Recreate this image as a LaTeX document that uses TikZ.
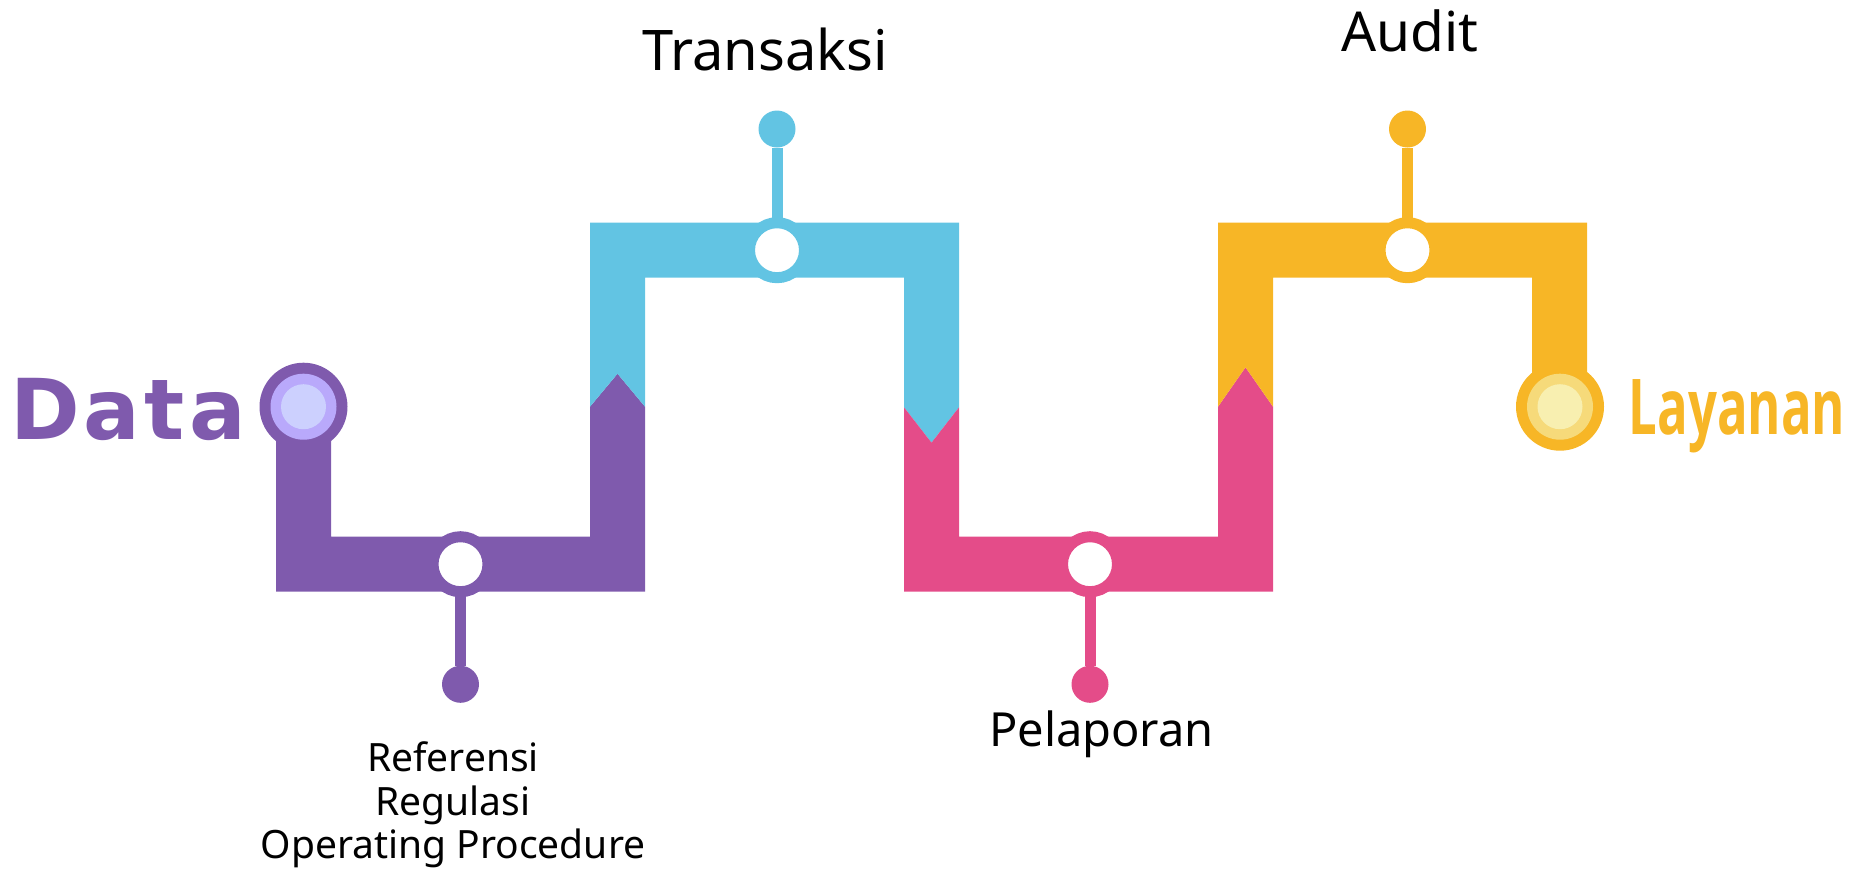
\documentclass[tikz,border=0pt]{standalone}
\usepackage{graphicx}
\usepackage{fontspec}
\setmainfont{Noto Sans}
\newfontfamily\datafont{DejaVu Sans}[LetterSpace=5]
\newfontfamily\layfont{Open Sans}[FakeStretch=0.66]
\definecolor{cpurple}{HTML}{7F5AAD}
\definecolor{ccyan}{HTML}{62C4E3}
\definecolor{cpink}{HTML}{E44C89}
\definecolor{cyellow}{HTML}{F7B626}
\definecolor{lavmid}{HTML}{B9A9FB}
\definecolor{lavin}{HTML}{CCD0FE}
\definecolor{yelmid}{HTML}{F6DA7A}
\definecolor{yelin}{HTML}{F8EFB0}
\begin{document}
\begin{tikzpicture}[x=1pt,y=-1pt,
  hub/.style={circle, fill=white, draw=#1, line width=11pt, minimum size=55pt, inner sep=0pt},
  pin/.style={circle, fill=#1, minimum size=37pt, inner sep=0pt},
  stem/.style={line width=11pt, draw=#1},
  disc/.style={circle, fill=#1, inner sep=0pt},
  lbl/.style={anchor=base, inner sep=0pt, text=black}]
\useasboundingbox (0,0) rectangle (1850,871);
% purple band
\fill[cpurple] (276,407) -- (276,591.7) -- (645,591.7) -- (645,406.7) -- (617.5,373.7)
  -- (590,406.7) -- (590,536.7) -- (331,536.7) -- (331,407) -- cycle;
% cyan band
\fill[ccyan] (590,406.7) -- (617.5,373.7) -- (645,406.7) -- (645,277.7) -- (904,277.7)
  -- (904,407.3) -- (931.5,442.7) -- (959,407.3) -- (959,222.7) -- (590,222.7) -- cycle;
% pink band
\fill[cpink] (904,407.3) -- (931.5,442.7) -- (959,407.3) -- (959,536.7) -- (1218,536.7)
  -- (1218,406.7) -- (1245.5,367.3) -- (1273,406.7) -- (1273,591.7) -- (904,591.7) -- cycle;
% yellow band
\fill[cyellow] (1218,406.7) -- (1245.5,367.3) -- (1273,406.7) -- (1273,277.7) -- (1532,277.7)
  -- (1532,406.7) -- (1587,406.7) -- (1587,222.7) -- (1218,222.7) -- cycle;
% start circle
\node[disc=cpurple, minimum size=88pt] (dataO) at (303.5,406.7) {};
\node[disc=lavmid, minimum size=66pt] (dataM) at (303.5,406.7) {};
\node[disc=lavin, minimum size=45pt] (dataI) at (303.5,406.7) {};
% end circle
\node[disc=cyellow, minimum size=88pt] (layO) at (1560,406.7) {};
\node[disc=yelmid, minimum size=66pt] (layM) at (1560,406.7) {};
\node[disc=yelin, minimum size=45pt] (layI) at (1560,406.7) {};
% hubs and pins
\node[pin=cpurple] (pd) at (460.5,684.3) {};
\node[pin=ccyan] (td) at (777,129) {};
\node[pin=cpink] (kd) at (1090,684.3) {};
\node[pin=cyellow] (ad) at (1407.5,129) {};
\draw[stem=cpurple] (460.5,564.2) -- (pd);
\draw[stem=ccyan] (777,250.2) -- (td);
\draw[stem=cpink] (1090,564.2) -- (kd);
\draw[stem=cyellow] (1407.5,250.2) -- (ad);
\node[hub=cpurple] (ph) at (460.5,564.2) {};
\node[hub=ccyan] (th) at (777,250.2) {};
\node[hub=cpink] (kh) at (1090,564.2) {};
\node[hub=cyellow] (ah) at (1407.5,250.2) {};
% labels
\node[lbl, text=cpurple, font=\datafont\bfseries\fontsize{84}{90}\selectfont] (data) at (128,439) {Data};
\node[lbl, text=cyellow, font=\layfont\bfseries\fontsize{77}{84}\selectfont] (lay) at (1737,434.3) {Layanan};
\node[lbl, font=\fontsize{56}{62}\selectfont] (trans) at (765,70) {Transaksi};
\node[lbl, font=\fontsize{55}{62}\selectfont] (audit) at (1410,51) {Audit};
\node[lbl, font=\fontsize{47}{52}\selectfont] (pel) at (1101.5,746.7) {Pelaporan};
\node[lbl, font=\fontsize{39}{44}\selectfont] (ref1) at (453,771.7) {Referensi};
\node[lbl, font=\fontsize{39}{44}\selectfont] (ref2) at (453,815.5) {Regulasi};
\node[lbl, font=\fontsize{39}{44}\selectfont] (ref3) at (453,858) {Operating Procedure};
\end{tikzpicture}
\end{document}
